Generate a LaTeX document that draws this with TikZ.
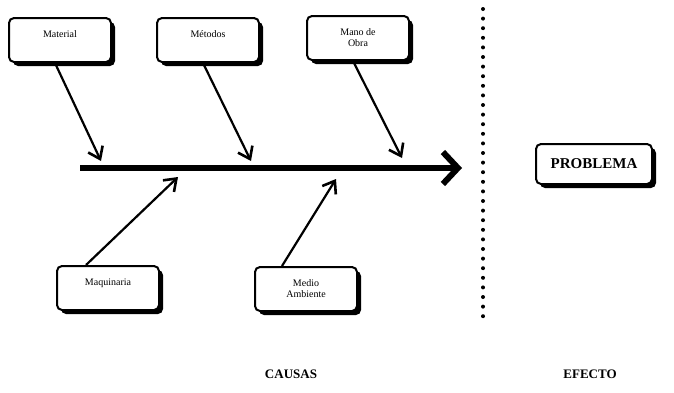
\documentclass[tikz,border=0pt]{standalone}
\usepackage{fontspec}
\setmainfont{Liberation Serif}
\usetikzlibrary{arrows.meta,positioning,calc,shadows}

\begin{document}
\begin{tikzpicture}[
    x=1pt, y=-1pt,
    font=\fontsize{10}{11}\selectfont,
    causa/.style={draw=black, fill=white, line width=2pt, rounded corners=5pt,
      minimum width=102pt, minimum height=44pt, align=center, inner sep=2pt,
      drop shadow={shadow xshift=4pt, shadow yshift=-4pt, fill=black, opacity=1}},
    efecto/.style={causa, minimum width=116pt, minimum height=40pt,
      font=\fontsize{15}{17}\selectfont\bfseries},
    flecha/.style={line width=2.2pt, -{Straight Barb[length=11pt,width=16pt,line width=2.6pt]}},
    espina/.style={line width=6pt, -{Straight Barb[length=15pt,width=32pt,line width=6pt]}},
    titulo/.style={font=\fontsize{13}{15}\selectfont\bfseries}
  ]
    \useasboundingbox (0,0) rectangle (674,392);
    % causas de arriba
    \node[causa] (mat) at (60,40) {Material\\\mbox{}};
    \node[causa] (met) at (208,40) {M\'etodos\\\mbox{}};
    \node[causa] (mano) at (358,38) {Mano de\\Obra};
    % causas de abajo
    \node[causa] (maq) at (108,288) {Maquinaria\\\mbox{}};
    \node[causa] (medio) at (306,289) {Medio\\Ambiente};
    % efecto
    \node[efecto] (prob) at (594,164) {PROBLEMA};
    % espina central
    \coordinate (ini) at (80,168);
    \coordinate (fin) at (462,168);
    \draw[espina] (ini) -- (fin);
    \coordinate (e1) at (101,161);
    \coordinate (e2) at (251,161);
    \coordinate (e3) at (402,158);
    \coordinate (e4) at (178,177);
    \coordinate (e5) at (336,179);
    \draw[flecha] ($(mat.south west)+(47,0)$) -- (e1);
    \draw[flecha] ($(met.south west)+(47,0)$) -- (e2);
    \draw[flecha] ($(mano.south west)+(47,0)$) -- (e3);
    \draw[flecha] ($(maq.north west)+(30,0)$) -- (e4);
    \draw[flecha] ($(medio.north west)+(28,0)$) -- (e5);
    % separacion
    \coordinate (d1) at (483,9);
    \coordinate (d2) at (483,318);
    \draw[line width=4pt, line cap=round, dash pattern=on 0pt off 9.6pt] (d1) -- (d2);
    % titulos
    \node[titulo] (causas) at (291,374) {CAUSAS};
    \node[titulo] (efec) at (590,374) {EFECTO};
  \end{tikzpicture}
\end{document}
